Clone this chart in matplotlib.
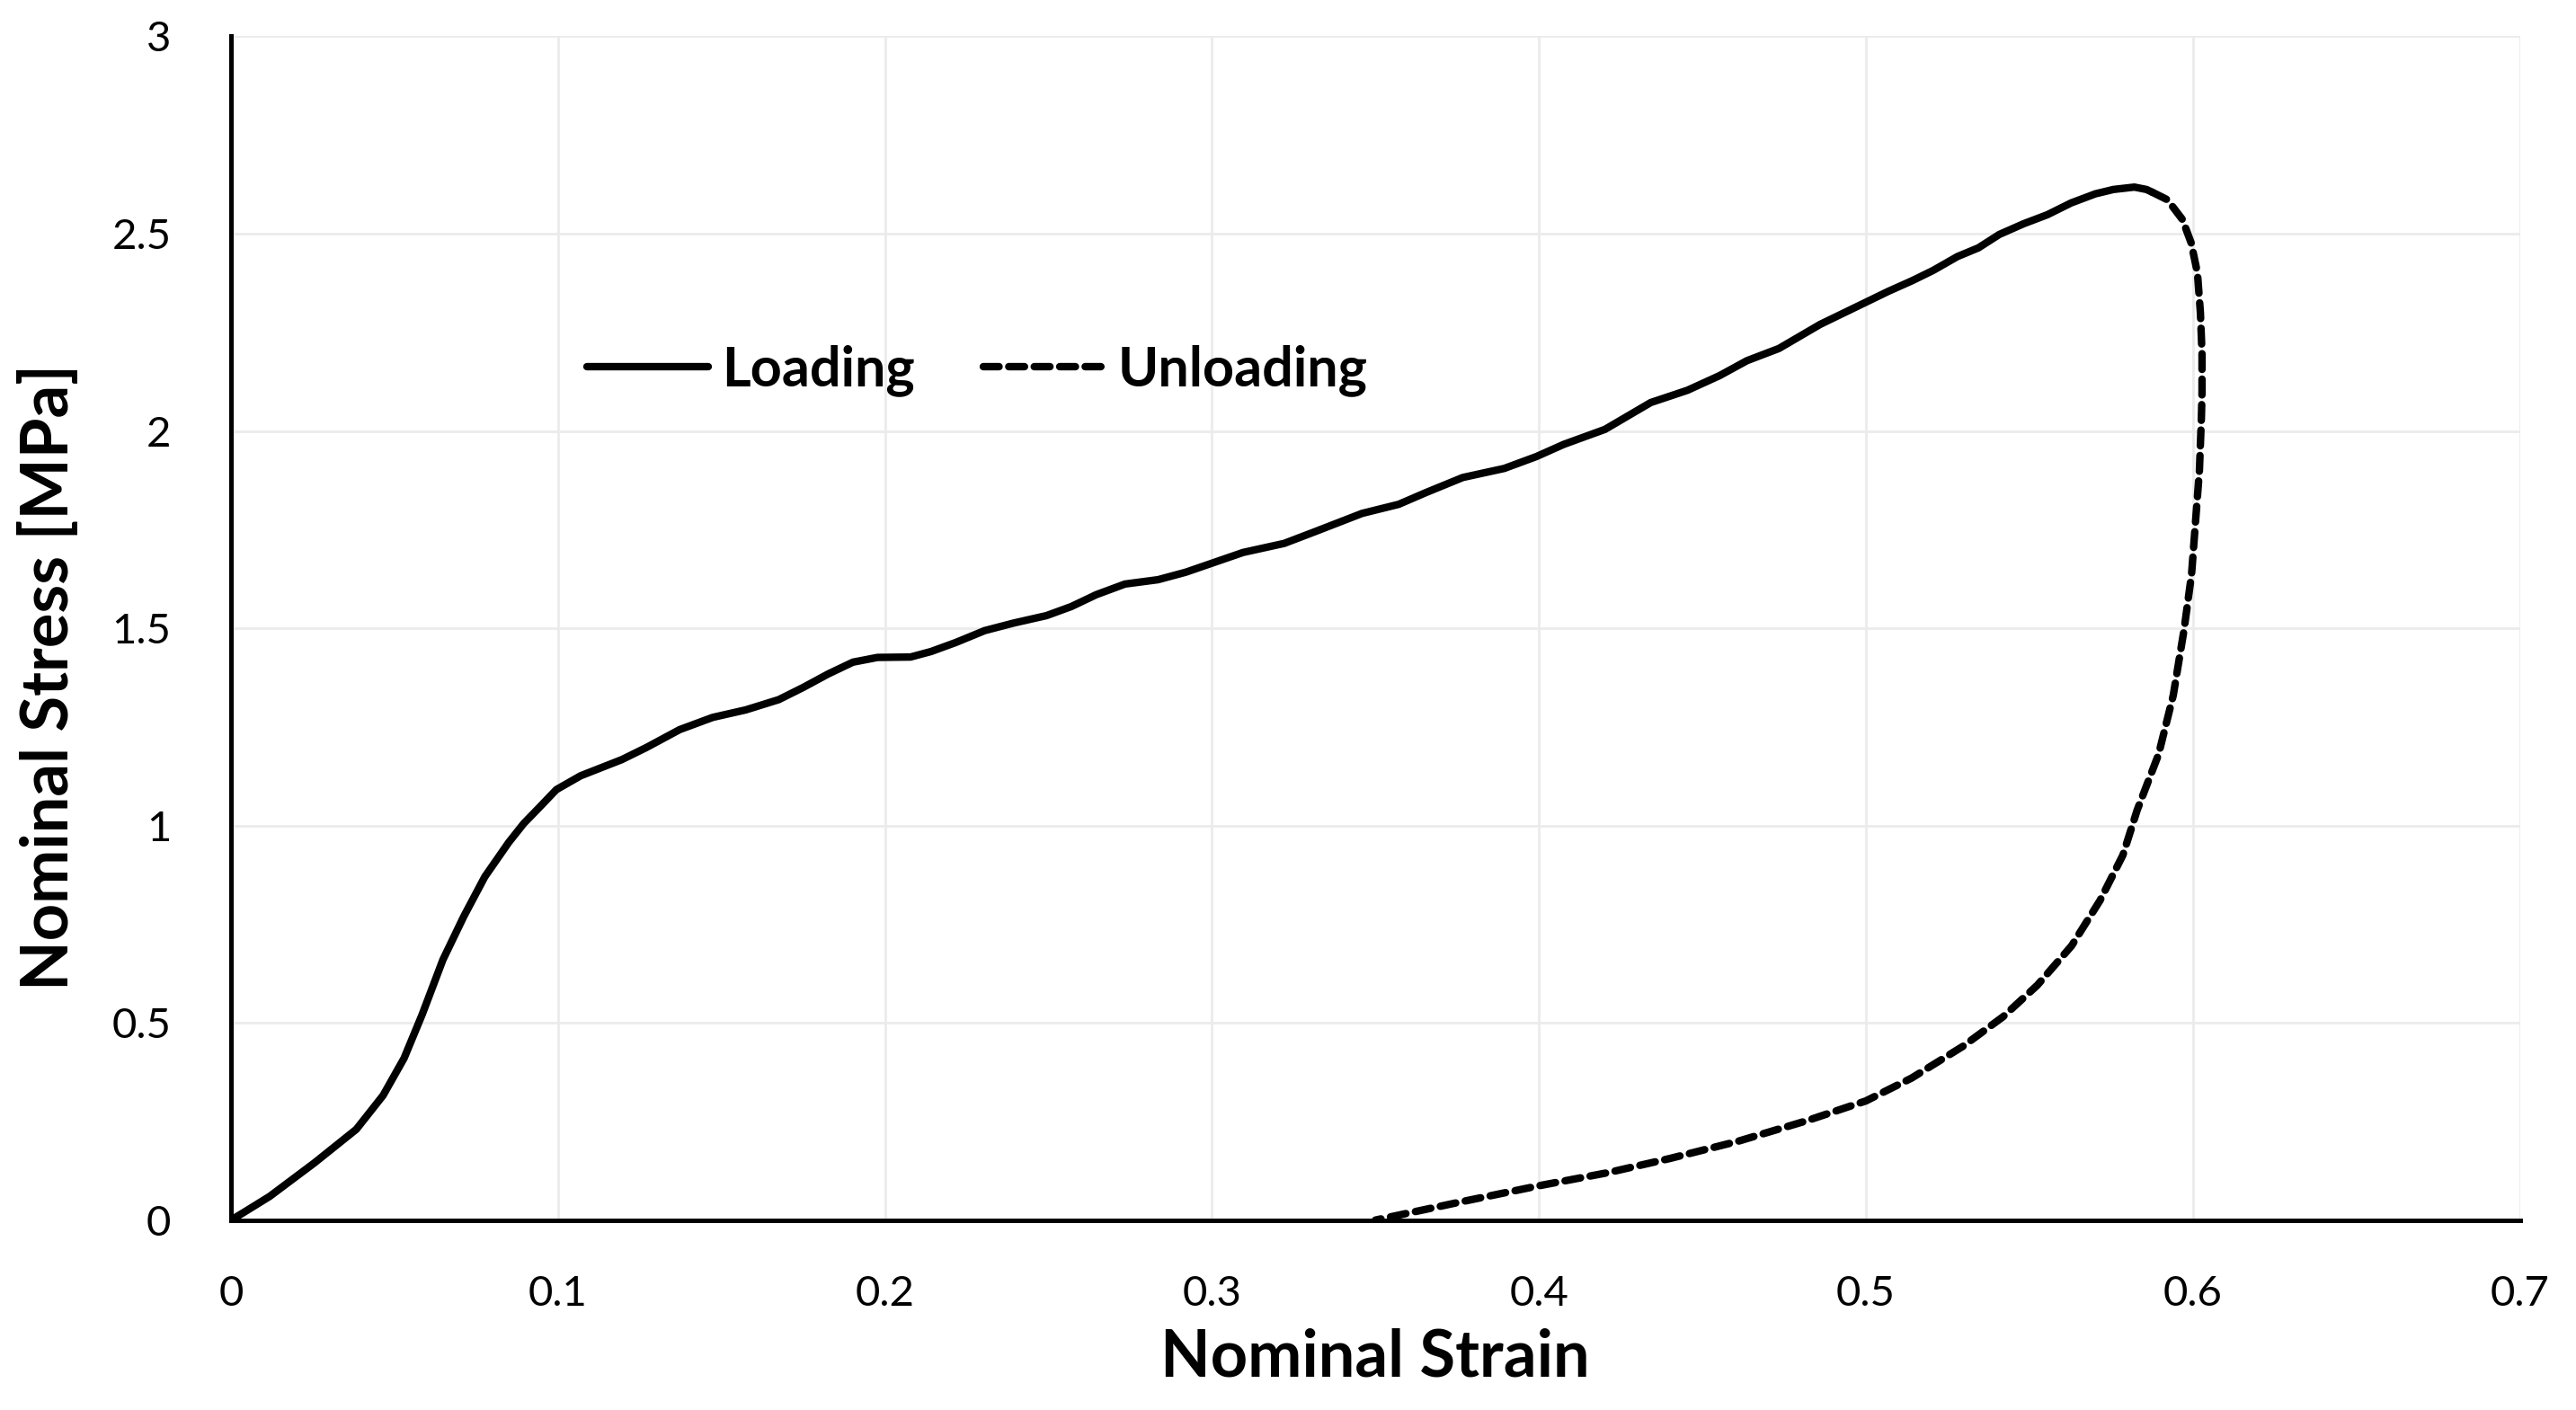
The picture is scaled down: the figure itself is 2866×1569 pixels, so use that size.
import matplotlib
matplotlib.use("Agg")
import matplotlib.pyplot as plt
import numpy as np

# loading branch (nominal strain, nominal stress in MPa)
load_strain = [0.0, 0.004, 0.0118, 0.0255, 0.0383, 0.0465, 0.0529, 0.0584, 0.0648, 0.0712,
               0.0776, 0.0849, 0.0895, 0.0943, 0.0995, 0.1069, 0.1195, 0.1271, 0.1372,
               0.1473, 0.1574, 0.1675, 0.175, 0.1826, 0.1902, 0.1977, 0.2078, 0.2141,
               0.2217, 0.2305, 0.2393, 0.2494, 0.257, 0.2646, 0.2734, 0.2835, 0.292,
               0.2983, 0.3095, 0.3221, 0.3319, 0.3459, 0.3571, 0.3655, 0.3767, 0.3894,
               0.3992, 0.4076, 0.4202, 0.4342, 0.4454, 0.4552, 0.4636, 0.4734, 0.486,
               0.4972, 0.5069, 0.5142, 0.5206, 0.528, 0.5344, 0.5408, 0.5482, 0.5555,
               0.5628, 0.5702, 0.5757, 0.5821, 0.5858, 0.5876]
load_stress = [0.0, 0.02, 0.06, 0.145, 0.23, 0.316, 0.41, 0.52, 0.66, 0.77,
               0.87, 0.957, 1.005, 1.046, 1.091, 1.126, 1.167, 1.198, 1.243,
               1.274, 1.293, 1.319, 1.350, 1.384, 1.414, 1.426, 1.427, 1.441,
               1.464, 1.494, 1.513, 1.532, 1.555, 1.585, 1.612, 1.623, 1.642,
               1.660, 1.692, 1.715, 1.746, 1.791, 1.814, 1.844, 1.882, 1.905,
               1.935, 1.966, 2.004, 2.072, 2.103, 2.140, 2.178, 2.209, 2.270,
               2.315, 2.354, 2.381, 2.407, 2.442, 2.464, 2.498, 2.525, 2.548,
               2.578, 2.601, 2.612, 2.618, 2.612, 2.605]

# unloading branch
unload_strain = [0.5876, 0.5922, 0.5968, 0.5995, 0.6014, 0.6023, 0.6028, 0.6028, 0.6026,
                 0.602, 0.6008, 0.5996, 0.5973, 0.594, 0.5895, 0.583, 0.5786, 0.5716,
                 0.5629, 0.5524, 0.5419, 0.5296, 0.514, 0.500, 0.482, 0.461, 0.440,
                 0.421, 0.400, 0.3772, 0.350]
unload_stress = [2.605, 2.586, 2.536, 2.476, 2.40, 2.30, 2.195, 2.10, 2.032,
                 1.90, 1.769, 1.637, 1.496, 1.33, 1.18, 1.04, 0.925, 0.81,
                 0.695, 0.595, 0.515, 0.44, 0.36, 0.302, 0.252, 0.200, 0.156,
                 0.12, 0.087, 0.048, 0.0]

plt.rcParams['font.family'] = ['Lato', 'DejaVu Sans']

fig = plt.figure(figsize=(14.33, 7.845), dpi=200)
ax = fig.add_axes([0.0897, 0.1347, 0.8885, 0.8395])

ax.plot(load_strain, load_stress, color='black', linewidth=3.0, solid_capstyle='round',
        solid_joinstyle='round', label='Loading')
ax.plot(unload_strain, unload_stress, color='black', linewidth=3.0,
        linestyle=(0, (2.1, 1.3)), dash_capstyle='round', label='Unloading')

ax.set_xlim(0, 0.7)
ax.set_ylim(0, 3)
ax.set_xticks(np.arange(0, 0.71, 0.1))
ax.set_xticklabels(['0', '0.1', '0.2', '0.3', '0.4', '0.5', '0.6', '0.7'])
ax.set_yticks(np.arange(0, 3.01, 0.5))
ax.set_yticklabels(['0', '0.5', '1', '1.5', '2', '2.5', '3'])
ax.tick_params(length=0, labelsize=17)
ax.tick_params(axis='x', pad=22)
ax.tick_params(axis='y', pad=24)

ax.grid(True, color='#ebebeb', linewidth=1.0)
ax.set_axisbelow(True)
for s in ['top', 'right']:
    ax.spines[s].set_visible(False)
for s in ['left', 'bottom']:
    ax.spines[s].set_linewidth(1.8)
    ax.spines[s].set_color('black')

ax.set_xlabel('Nominal Strain', fontsize=26, fontweight='bold', labelpad=6)
ax.set_ylabel('Nominal Stress [MPa]', fontsize=26, fontweight='bold')
ax.yaxis.set_label_coords(-0.066, 0.459)

ax.legend(loc='center left', bbox_to_anchor=(0.134, 0.718), ncol=2, frameon=False,
          prop={'weight': 'bold', 'size': 22}, handlelength=2.2,
          handletextpad=0.25, columnspacing=1.25)

fig.savefig('out.png', dpi=200)
